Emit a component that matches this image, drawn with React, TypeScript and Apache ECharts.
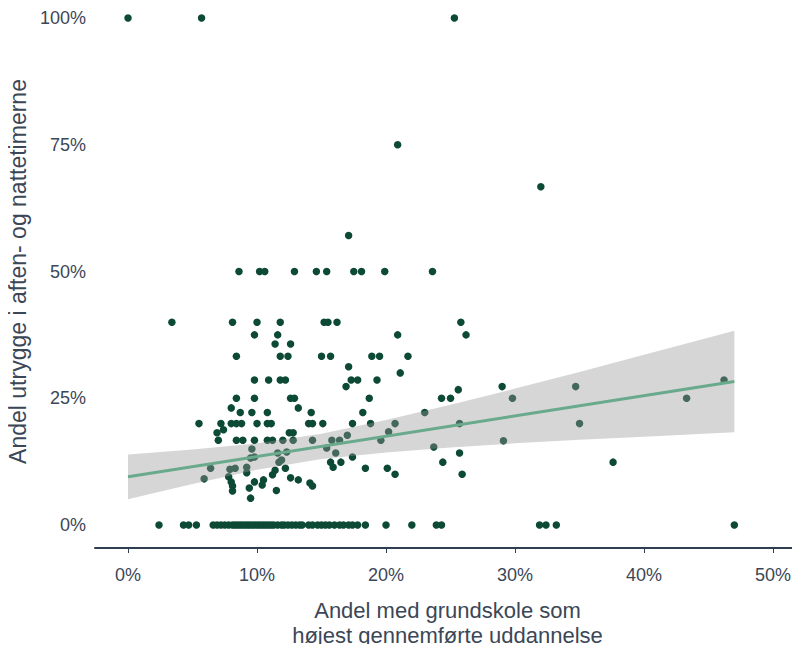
import React, { useEffect, useRef } from "react";
import * as echarts from "echarts";

// x = share with only primary school (%), y = share feeling unsafe (%)
const xVals: number[] = [
  // 100 / 75 / 66.7 / 57.1
  0, 5.7, 25.3, 20.9, 32.0, 17.1,
  // 50
  8.6, 10.2, 10.6, 12.9, 14.6, 15.4, 17.5, 18.1, 19.9, 23.6,
  // 40
  3.4, 8.1, 10.0, 11.8, 15.2, 15.5, 16.2, 25.8,
  // 37.5
  9.8, 11.6, 20.9, 26.2,
  // 35.7
  11.4, 12.6,
  // 33.3
  8.4, 11.8, 12.4, 15.0, 15.7, 18.9, 19.5, 21.7,
  // 31.2, 30
  17.1, 21.1,
  // 28.6
  9.8, 10.9, 11.8, 12.2, 17.3, 17.8, 19.3, 46.2,
  // 27.3, 26.7
  16.9, 29.0, 34.7, 25.6,
  // 25
  8.4, 9.8, 12.6, 12.9, 18.7, 24.3, 25.0, 29.8, 43.3,
  // 23.1
  8.0, 13.2,
  // 22.2
  8.7, 9.6, 10.8, 14.2, 18.2, 23.0,
  // 20
  5.5, 7.2, 8.0, 8.4, 8.8, 10.0, 10.8, 11.1, 14.0, 14.3, 15.1, 17.4, 18.8, 20.7, 25.7, 35.0,
  // 18-19
  6.9, 7.4, 12.5, 12.8, 20.2, 17.0,
  // 16.7
  7.0, 8.4, 8.9, 9.8, 10.8, 11.2, 12.0, 12.8, 14.3, 15.8, 16.4, 19.6, 29.1,
  // 15-15.4
  23.7, 9.6, 15.4,
  // 14.2-14.4
  11.6, 12.3, 16.1, 25.7,
  // 13.2-13.4
  9.8, 17.4, 9.5,
  // 12.2-12.8
  24.4, 37.6, 11.7, 16.5, 11.9, 15.7,
  // 11-11.4
  9.2, 15.9, 8.3, 6.4, 12.2, 18.4, 20.1, 7.9, 11.4,
  // 9-10.3
  9.2, 11.2, 20.7, 25.9, 5.9, 7.8, 10.5, 12.6, 13.2,
  // 7.3-8.5
  8.0, 9.8, 14.1, 10.4, 8.1, 14.3, 9.4,
  // 5.3-6.9
  8.1, 11.5, 9.5,
  // 0
  2.4, 4.3, 4.7, 5.3,
  6.6, 6.9, 7.2, 7.5, 7.8, 8.1, 8.3, 8.5, 8.7, 8.9, 9.1, 9.3, 9.5, 9.7, 9.9,
  10.1, 10.3, 10.5, 10.7, 10.9, 11.1, 11.3, 11.6, 11.9, 12.1, 12.4, 12.7, 13.0, 13.3, 13.5,
  14.0, 14.3, 14.7, 15.0, 15.3, 15.6, 16.0, 16.4, 16.7, 17.1, 17.4, 17.8, 18.4,
  20.0, 22.0, 23.9, 24.3, 31.9, 32.4, 33.2, 47.0,
];

const yVals: number[] = [
  100, 100, 100, 75, 66.7, 57.1,
  50, 50, 50, 50, 50, 50, 50, 50, 50, 50,
  40, 40, 40, 40, 40, 40, 40, 40,
  37.5, 37.5, 37.5, 37.5,
  35.7, 35.7,
  33.3, 33.3, 33.3, 33.3, 33.3, 33.3, 33.3, 33.3,
  31.2, 30,
  28.6, 28.6, 28.6, 28.6, 28.6, 28.6, 28.6, 28.6,
  27.3, 27.3, 27.3, 26.7,
  25, 25, 25, 25, 25, 25, 25, 25, 25,
  23.1, 23.1,
  22.2, 22.2, 22.2, 22.2, 22.2, 22.2,
  20, 20, 20, 20, 20, 20, 20, 20, 20, 20, 20, 20, 20, 20, 20, 20,
  18.2, 18.8, 18.2, 18.2, 18.4, 17.7,
  16.7, 16.7, 16.7, 16.7, 16.7, 16.7, 16.7, 16.7, 16.7, 16.7, 16.7, 16.7, 16.6,
  15.4, 15.0, 15.2,
  14.2, 14.4, 14.2, 14.2,
  13.4, 13.4, 13.2,
  12.4, 12.4, 12.4, 12.4, 12.8, 12.4,
  11.4, 11.4, 11.2, 11.2, 11.2, 11.2, 11.2, 11.0, 10.8,
  10.3, 9.9, 10.0, 10.0, 9.1, 9.5, 8.9, 9.3, 8.9,
  8.5, 8.5, 8.3, 7.9, 7.7, 7.7, 7.3,
  6.7, 6.8, 5.3,
  0, 0, 0, 0,
  0, 0, 0, 0, 0, 0, 0, 0, 0, 0, 0, 0, 0, 0, 0,
  0, 0, 0, 0, 0, 0, 0, 0, 0, 0, 0, 0, 0, 0, 0,
  0, 0, 0, 0, 0, 0, 0, 0, 0, 0, 0, 0, 0,
  0, 0, 0, 0, 0, 0, 0, 0,
];

// Fitted line and its confidence band
const fitX: number[] = [0, 47];
const fitY: number[] = [9.5, 28.3];
const bandX: number[] = [0, 5, 10, 15, 20, 25, 30, 35, 40, 47];
const bandLower: number[] = [5.1, 8.1, 10.9, 13.0, 14.3, 15.3, 16.1, 16.8, 17.4, 18.3];
const bandUpper: number[] = [13.9, 14.9, 16.1, 18.0, 20.7, 23.7, 26.9, 30.2, 33.6, 38.3];

const xTicks: number[] = [0, 10, 20, 30, 40, 50];
const yTicks: number[] = [0, 25, 50, 75, 100];

const xTitle = "Andel med grundskole som\nhøjest gennemførte uddannelse";
const yTitle = "Andel utrygge i aften- og nattetimerne";

const FONT = "Liberation Sans, Arial, sans-serif";
const TEXT = "#3b4756";

export default function App() {
  const ref = useRef<HTMLDivElement>(null);
  useEffect(() => {
    if (!ref.current) return;
    const chart = echarts.init(ref.current, undefined, { renderer: "svg" });
    const points = xVals.map((x, i) => [x, yVals[i]]);
    const option: any = {
      animation: false,
      backgroundColor: "#ffffff",
      grid: {
        left: 95,
        right: 0,
        top: 18,
        bottom: 127,
        containLabel: false,
        outerBoundsMode: "none",
      },
      xAxis: {
        type: "value",
        min: -2.56,
        max: 52.09,
        offset: 23,
        splitLine: { show: false },
        axisLine: { show: true, onZero: false, lineStyle: { color: "#2e3d4f", width: 2 } },
        axisTick: {
          show: true,
          customValues: xTicks,
          length: 5,
          lineStyle: { color: "#2e3d4f", width: 1 },
        },
        axisLabel: {
          customValues: xTicks,
          formatter: (v: number) => `${v}%`,
          color: TEXT,
          fontSize: 18,
          fontFamily: FONT,
          margin: 18,
        },
        name: xTitle,
        nameLocation: "middle",
        nameGap: 50,
        nameTextStyle: { color: TEXT, fontSize: 22, fontFamily: FONT, lineHeight: 25 },
      },
      yAxis: {
        type: "value",
        min: 0,
        max: 100,
        interval: 25,
        splitLine: { show: false },
        axisLine: { show: false },
        axisTick: { show: false },
        axisLabel: {
          customValues: yTicks,
          formatter: (v: number) => `${v}%`,
          color: TEXT,
          fontSize: 18,
          fontFamily: FONT,
          margin: 9,
        },
        name: yTitle,
        nameLocation: "middle",
        nameGap: 52,
        nameTextStyle: { color: TEXT, fontSize: 23, fontFamily: FONT },
      },
      series: [
        {
          type: "scatter",
          data: points,
          symbolSize: 7.5,
          clip: false,
          itemStyle: { color: "#0c4a35", opacity: 1 },
          z: 2,
        },
        {
          type: "custom",
          data: [[0, 0]],
          silent: true,
          z: 3,
          renderItem: (_params: any, api: any) => {
            const upper = bandX.map((x, i) => api.coord([x, bandUpper[i]]));
            const lower = bandX
              .map((x, i) => api.coord([x, bandLower[i]]))
              .reverse();
            return {
              type: "polygon",
              shape: { points: upper.concat(lower), smooth: 0 },
              style: { fill: "rgba(153,153,153,0.4)", stroke: "none" },
            };
          },
        },
        {
          type: "line",
          data: fitX.map((x, i) => [x, fitY[i]]),
          symbol: "none",
          lineStyle: { color: "#69a98c", width: 3 },
          z: 4,
          silent: true,
        },
      ],
    };
    chart.setOption(option);
    return () => chart.dispose();
  }, []);
  return <div ref={ref} style={{ width: 800, height: 652, margin: -8 }} />;
}
